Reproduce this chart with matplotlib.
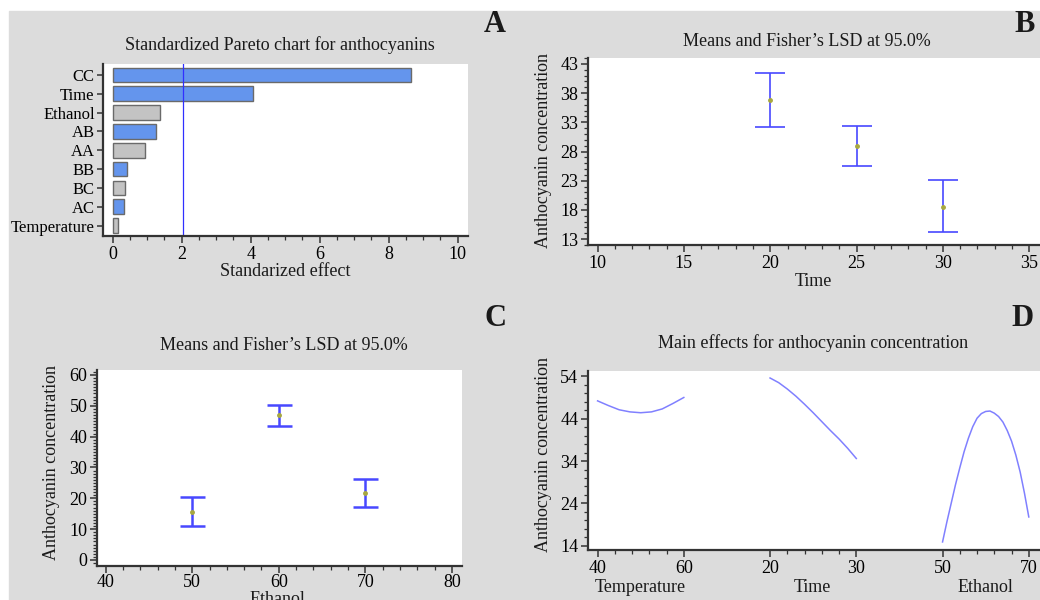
import matplotlib
matplotlib.use("Agg")
import matplotlib.pyplot as plt
import numpy as np
from matplotlib.patches import Rectangle
from matplotlib.ticker import MultipleLocator, FixedLocator

plt.rcParams['font.family'] = ['Liberation Serif', 'DejaVu Serif']
plt.rcParams['text.color'] = '#1a1a1a'

# --- data -------------------------------------------------------------
# A: standardized Pareto chart
pareto_terms = ['Temperature', 'AC', 'BC', 'BB', 'AA', 'AB', 'Ethanol', 'Time', 'CC']
pareto_effects = [0.16, 0.33, 0.35, 0.43, 0.93, 1.25, 1.37, 4.07, 8.65]
pareto_positive = [False, True, False, True, False, True, False, True, True]
pareto_limit = 2.05

# B: means and LSD intervals by time
time_levels = [20, 25, 30]
time_means = [36.8, 29.0, 18.5]
time_upper = [41.4, 32.4, 23.2]
time_lower = [32.2, 25.6, 14.2]

# C: means and LSD intervals by ethanol
ethanol_levels = [50, 60, 70]
ethanol_means = [15.6, 46.9, 21.6]
ethanol_upper = [20.3, 50.4, 26.4]
ethanol_lower = [11.0, 43.5, 17.1]

# D: main effects
temp_x = [40, 42.5, 45, 47.5, 50, 52.5, 55, 57.5, 60]
temp_y = [48.2, 47.1, 46.1, 45.6, 45.4, 45.6, 46.3, 47.6, 49.0]
tim_x = [20, 21, 22, 23, 24, 25, 26, 27, 28, 29, 30]
tim_y = [53.6, 52.5, 51.0, 49.3, 47.4, 45.4, 43.3, 41.2, 39.2, 37.0, 34.6]
eth_x = [50, 51, 52, 53, 54, 55, 56, 57, 58, 59, 60, 61, 62, 63, 64, 65, 66, 67, 68, 69, 70]
eth_y = [14.9, 19.6, 24.0, 28.4, 32.4, 36.2, 39.4, 42.1, 44.1, 45.2, 45.7, 45.8, 45.3,
         44.5, 43.2, 41.2, 38.7, 35.4, 31.4, 26.4, 20.8]
effect_ticklabels = ['40', '60', '20', '30', '50', '70']
effect_names = ['Temperature', 'Time', 'Ethanol']

# --- figure -------------------------------------------------------------
W, H = 1040, 600
fig = plt.figure(figsize=(W / 100, H / 100), dpi=100, facecolor='white')
fig.add_artist(Rectangle((9 / W, 0), (W - 9) / W, (H - 11) / H,
                         transform=fig.transFigure, color='#dcdcdc', zorder=-5))

DARK = '#333333'
BLUE = '#4848ff'
FS = 13


def axes_px(l, t, r, b):
    ax = fig.add_axes([l / W, 1 - b / H, (r - l) / W, (b - t) / H])
    for s in ['top', 'right']:
        ax.spines[s].set_visible(False)
    for s in ['left', 'bottom']:
        ax.spines[s].set_color(DARK)
        ax.spines[s].set_linewidth(1.6)
    ax.tick_params(which='major', length=5, width=1.1, color=DARK, labelsize=FS, pad=2)
    ax.tick_params(which='minor', length=3, width=0.9, color=DARK)
    return ax


def ftext(x, y, s, **kw):
    fig.text(x / W, 1 - y / H, s, ha='center', va='center', **kw)


# A
ax = axes_px(103, 64, 468, 236)
ypos = np.arange(len(pareto_terms))
colors = ['#6495ed' if p else '#c3c3c3' for p in pareto_positive]
ax.barh(ypos, pareto_effects, height=0.78, color=colors, edgecolor='#6a6a6a', linewidth=1)
ax.axvline(pareto_limit, color='#3030ff', lw=0.9)
ax.set_xlim(-0.28, 10.3)
ax.set_ylim(-0.55, 8.58)
ax.set_yticks(ypos)
ax.set_yticklabels(pareto_terms, fontsize=12)
ax.tick_params(axis='y', length=4)
ax.set_xticks(range(0, 11, 2))
ax.xaxis.set_minor_locator(MultipleLocator(0.5))
ftext(280, 45, 'Standardized Pareto chart for anthocyanins', fontsize=FS)
ftext(285, 271, 'Standarized effect', fontsize=FS)
ftext(495, 25, 'A', fontsize=22, fontweight='bold')

# B
ax = axes_px(588, 58, 1040, 245)
yerr = [np.subtract(time_means, time_lower), np.subtract(time_upper, time_means)]
ax.errorbar(time_levels, time_means, yerr=yerr, fmt='none', ecolor=BLUE,
            elinewidth=1.2, capsize=10.5, capthick=1.2)
ax.plot(time_levels, time_means, 'o', ms=2.5, color='#a8a840')
ax.set_xlim(9.44, 35.63)
ax.set_ylim(12, 44)
ax.set_xticks(range(10, 36, 5))
ax.set_yticks(range(13, 44, 5))
ax.xaxis.set_minor_locator(MultipleLocator(1))
ax.yaxis.set_minor_locator(MultipleLocator(1))
ftext(807, 42, "Means and Fisher’s LSD at 95.0%", fontsize=FS)
ftext(813, 282, 'Time', fontsize=FS)
ftext(543, 151, 'Anthocyanin concentration', fontsize=FS, rotation=90)
ftext(1025, 25, 'B', fontsize=22, fontweight='bold')

# C
ax = axes_px(97, 370, 462, 566)
yerr = [np.subtract(ethanol_means, ethanol_lower), np.subtract(ethanol_upper, ethanol_means)]
ax.errorbar(ethanol_levels, ethanol_means, yerr=yerr, fmt='none', ecolor=BLUE,
            elinewidth=1.8, capsize=9, capthick=1.8)
ax.plot(ethanol_levels, ethanol_means, 'o', ms=2.5, color='#a8a840')
ax.set_xlim(39.0, 81.16)
ax.set_ylim(-1.95, 61.6)
ax.set_xticks(range(40, 81, 10))
ax.set_yticks(range(0, 61, 10))
ax.tick_params(axis='x', pad=1)
ax.xaxis.set_minor_locator(MultipleLocator(2))
ax.yaxis.set_minor_locator(MultipleLocator(1))
ftext(284, 345, "Means and Fisher’s LSD at 95.0%", fontsize=FS)
ftext(277, 599, 'Ethanol', fontsize=FS)
ftext(52, 462, 'Anthocyanin concentration', fontsize=FS, rotation=90)
ftext(495, 319, 'C', fontsize=22, fontweight='bold')

# D
ax = axes_px(588, 371, 1040, 550)
lc = '#8080ff'
ax.plot((np.array(temp_x) - 40) / 20, temp_y, color=lc, lw=1.1)
ax.plot(2 + (np.array(tim_x) - 20) / 10, tim_y, color=lc, lw=1.1)
ax.plot(4 + (np.array(eth_x) - 50) / 20, eth_y, color=lc, lw=1.1)
ax.set_xlim(-0.111, 5.13)
ax.set_ylim(13.0, 55.25)
ax.set_xticks(range(6))
ax.set_xticklabels(effect_ticklabels)
minor = [s + k * 0.2 for s in (0, 2, 4) for k in range(1, 5)]
ax.xaxis.set_minor_locator(FixedLocator(minor))
ax.set_yticks(range(14, 55, 10))
ax.yaxis.set_minor_locator(MultipleLocator(2))
for name, x in zip(effect_names, [640, 812, 985]):
    ftext(x, 588, name, fontsize=FS)
ftext(813, 343, 'Main effects for anthocyanin concentration', fontsize=FS)
ftext(543, 455, 'Anthocyanin concentration', fontsize=FS, rotation=90)
ftext(1023, 318, 'D', fontsize=22, fontweight='bold')

fig.savefig('out.png', dpi=100, facecolor='white')
